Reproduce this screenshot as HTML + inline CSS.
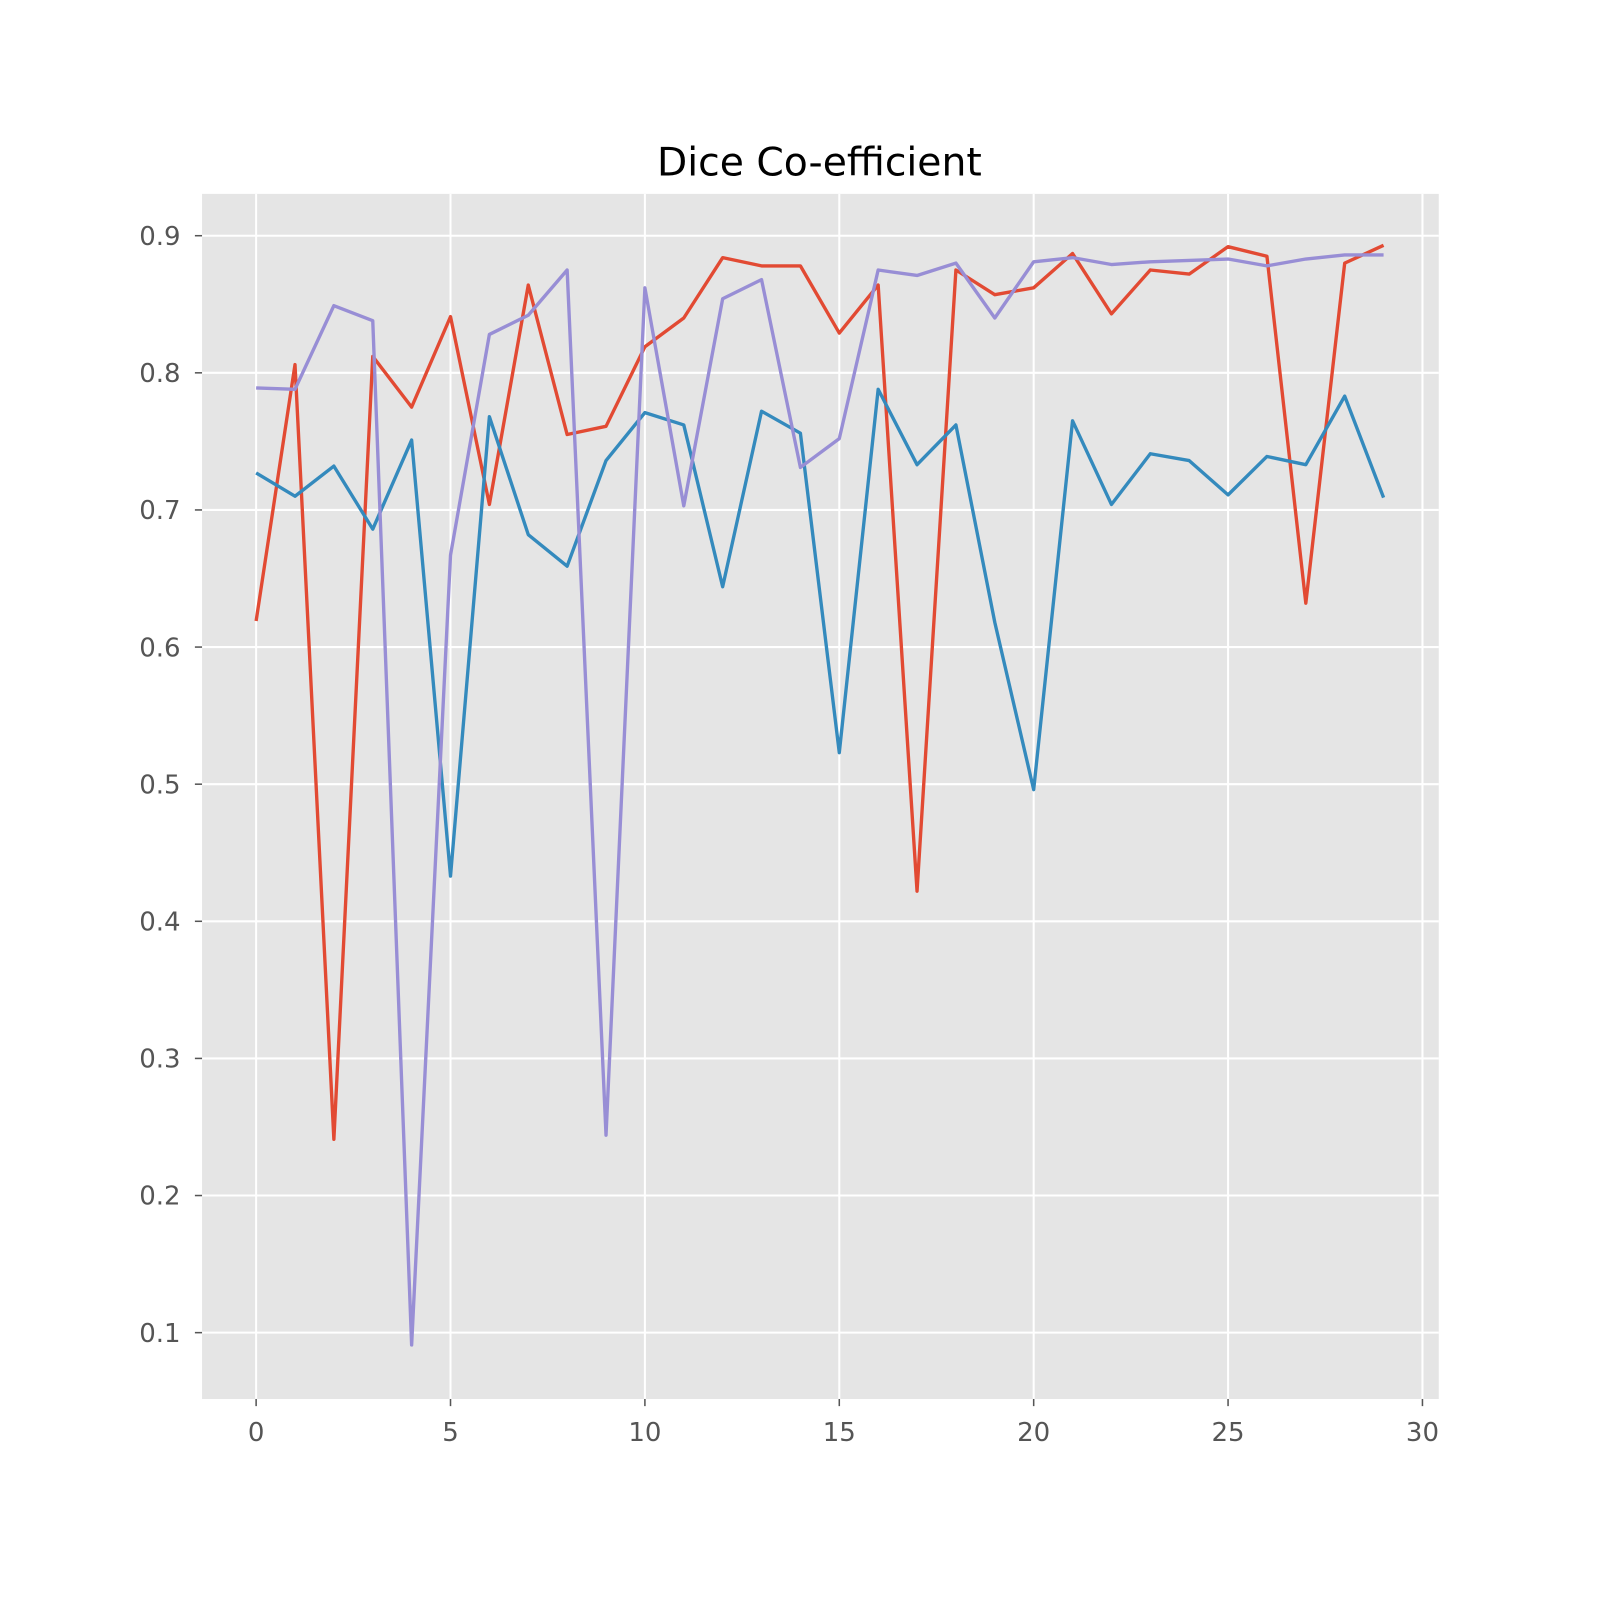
<!DOCTYPE html>
<html><head><meta charset="utf-8"><style>
html,body{margin:0;padding:0;background:#fff;width:1600px;height:1600px;overflow:hidden;}
svg{display:block;position:absolute;left:0;top:0;font-family:"DejaVu Sans","Liberation Sans",sans-serif;}
</style></head><body>
<svg id="chart" width="1600" height="1600" viewBox="0 0 1568 1568" xmlns="http://www.w3.org/2000/svg">
<rect x="0" y="0" width="1568" height="1568" fill="#fff"/>
<rect x="198" y="190" width="1212" height="1181" fill="#e5e5e5"/>
<g id="grid"></g><g id="ticks"></g><g id="series"></g>
<text x="803" y="172" text-anchor="middle" font-size="38.5" fill="#000">Dice Co-efficient</text>
</svg>
<script>
const xTicks = [0,5,10,15,20,25,30];
const yTicks = [0.1,0.2,0.3,0.4,0.5,0.6,0.7,0.8,0.9];
const redSeries = [0.619,0.806,0.241,0.812,0.775,0.841,0.704,0.864,0.755,0.761,0.819,0.840,0.884,0.878,0.878,0.829,0.864,0.422,0.875,0.857,0.862,0.887,0.843,0.875,0.872,0.892,0.885,0.632,0.880,0.893];
const blueSeries = [0.727,0.710,0.732,0.686,0.751,0.433,0.768,0.682,0.659,0.736,0.771,0.762,0.644,0.772,0.756,0.523,0.788,0.733,0.762,0.618,0.496,0.765,0.704,0.741,0.736,0.711,0.739,0.733,0.783,0.709];
const purpleSeries = [0.789,0.788,0.849,0.838,0.091,0.667,0.828,0.842,0.875,0.244,0.862,0.703,0.854,0.868,0.731,0.752,0.875,0.871,0.880,0.840,0.881,0.884,0.879,0.881,0.882,0.883,0.878,0.883,0.886,0.886];
const NS="http://www.w3.org/2000/svg";
const X=v=>251+v*38.1;
const Y=v=>231+(0.9-v)*1343.75;
const grid=document.getElementById('grid'),ticks=document.getElementById('ticks'),ser=document.getElementById('series');
function mk(tag,attrs,parent){const e=document.createElementNS(NS,tag);for(const k in attrs)e.setAttribute(k,attrs[k]);parent.appendChild(e);return e;}
xTicks.forEach(t=>{
  const l=mk('line',{x1:X(t),x2:X(t),y1:190,y2:1371,stroke:'#fff','stroke-width':2},grid);
  
  
  mk('line',{x1:X(t),x2:X(t),y1:1371,y2:1378,stroke:'#555','stroke-width':1.5},ticks);
  const tx=mk('text',{x:X(t),y:1412,'text-anchor':'middle','font-size':25.5,fill:'#555'},ticks);
  tx.textContent=t;
  
  
});
yTicks.forEach(t=>{
  const l=mk('line',{x1:198,x2:1410,y1:Y(t),y2:Y(t),stroke:'#fff','stroke-width':2},grid);
  
  
  mk('line',{x1:191,x2:198,y1:Y(t),y2:Y(t),stroke:'#555','stroke-width':1.5},ticks);
  const tx=mk('text',{x:177,y:Y(t)+9,'text-anchor':'end','font-size':25.5,fill:'#555'},ticks);
  tx.textContent=t.toFixed(1);
  
  
});
function line(data,color,name){
  const p=mk('polyline',{points:data.map((v,i)=>X(i)+','+Y(v)).join(' '),fill:'none',stroke:color,'stroke-width':3.3,'stroke-linejoin':'round'},ser);
  
  
}
line(redSeries,'#e24a33','red-series-line');
line(blueSeries,'#348abd','blue-series-line');
line(purpleSeries,'#988ed5','purple-series-line');
</script>
</body></html>
